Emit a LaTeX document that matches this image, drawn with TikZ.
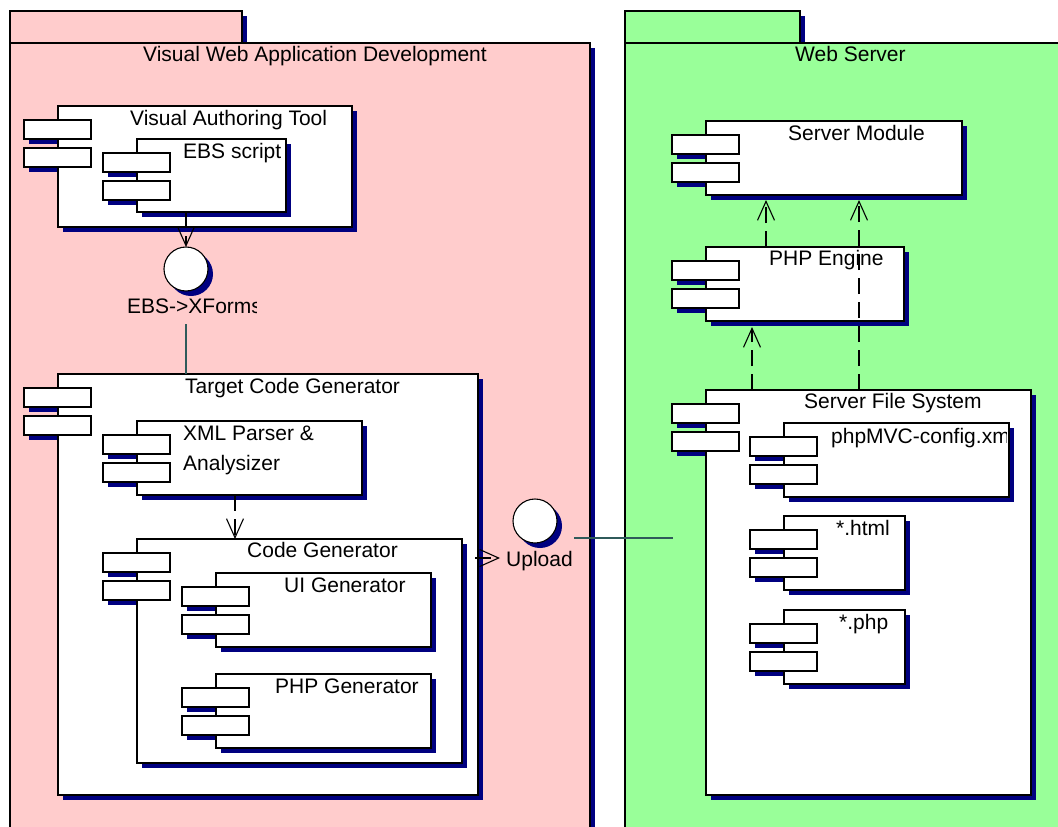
\documentclass[tikz,border=0pt]{standalone}
\usepackage{fontspec}
\setmainfont{Liberation Sans}
\usetikzlibrary{arrows.meta,shadows,calc}

\definecolor{navy}{RGB}{0,0,128}
\definecolor{pkgpink}{RGB}{255,204,204}
\definecolor{pkggreen}{RGB}{153,255,153}
\definecolor{wire}{RGB}{47,90,90}

\tikzset{
  sh/.style={drop shadow={shadow xshift=5pt, shadow yshift=-5pt, fill=navy, opacity=1}},
  body/.style={draw=black, fill=white, line width=1.1pt, rectangle, inner sep=0pt, outer sep=0pt, sh},
  port/.style={draw=black, fill=white, line width=1.1pt, rectangle, inner sep=0pt, outer sep=0pt,
               minimum width=67pt, minimum height=19pt},
  lbl/.style={inner sep=0pt, anchor=base west, font=\fontsize{21}{25}\selectfont},
  dep/.style={draw=black, line width=1.1pt, dash pattern=on 16pt off 8pt,
              -{Straight Barb[length=19pt,width=17pt]}},
  wireline/.style={draw=wire, line width=1.3pt},
  iface/.style={circle, draw=black, fill=white, line width=1.1pt, minimum size=44pt,
                inner sep=0pt, outer sep=0pt, sh},
  pkg/.style={draw=black, line width=1.1pt},
}

% UML component: #1 name, (#2,#3) top left, (#4,#5) bottom right of the body
\newcommand\umlcomp[5]{%
  \fill[navy] (#2-29,#3+19) rectangle ++(67,19);
  \fill[navy] (#2-29,#3+47) rectangle ++(67,19);
  \node[body, anchor=north west, minimum width={#4-#2}, minimum height={#5-#3}] (#1) at (#2,#3) {};
  \node[port, anchor=north west] (#1-a) at (#2-34,#3+14) {};
  \node[port, anchor=north west] (#1-b) at (#2-34,#3+42) {};
}

\begin{document}
\begin{tikzpicture}[x=1pt,y=-1pt]
\useasboundingbox (0,0) rectangle (1058,827);
\clip (0,0) rectangle (1058,827);
\fill[white] (0,0) rectangle (1058,827);

% ---- package: Visual Web Application Development
\fill[navy] (242,16) rectangle (247,43);
\fill[navy] (590,48) rectangle (595,900);
\filldraw[pkg, fill=pkgpink] (10,11) rectangle (242,43);
\filldraw[pkg, fill=pkgpink] (10,43) rectangle (590,900);
\node[lbl] (vwadtitle) at (143,61) {Visual Web Application Development};

% ---- package: Web Server
\fill[navy] (800,16) rectangle (805,43);
\filldraw[pkg, fill=pkggreen] (625,11) rectangle (800,43);
\filldraw[pkg, fill=pkggreen] (625,43) rectangle (1100,900);
\node[lbl] (wstitle) at (795,61) {Web Server};

% ---- left components
\umlcomp{vat}{58}{106}{352}{227}
\node[lbl] (vattitle) at (130,125) {Visual Authoring Tool};
\umlcomp{ebs}{137}{139}{286}{212}
\node[lbl] (ebstitle) at (183,158) {EBS script};

\node[iface] (xforms) at (186,269) {};
\begin{scope}
  \clip (100,290) rectangle (256,330);
  \node[lbl] (xformslbl) at (127,313) {EBS->XForms};
\end{scope}

\umlcomp{tcg}{58}{374}{478}{795}
\node[lbl] (tcgtitle) at (185,393) {Target Code Generator};
\umlcomp{xml}{137}{421}{362}{495}
\node[lbl] (xmltitle) at (183,440) {XML Parser \&};
\node[lbl] (xmltitleb) at (183,470) {Analysizer};
\umlcomp{cg}{137}{539}{462}{763}
\node[lbl] (cgtitle) at (247,557) {Code Generator};
\umlcomp{uig}{216}{573}{431}{647}
\node[lbl] (uigtitle) at (284,592) {UI Generator};
\umlcomp{phpg}{216}{674}{431}{748}
\node[lbl] (phpgtitle) at (275,693) {PHP Generator};

\node[iface] (upload) at (535,521) {};
\node[lbl] (uploadlbl) at (506,566) {Upload};

% ---- right components
\umlcomp{sm}{706}{121}{962}{195}
\node[lbl] (smtitle) at (788,140) {Server Module};
\umlcomp{php}{706}{247}{904}{321}
\node[lbl] (phptitle) at (769,265) {PHP Engine};
\umlcomp{sfs}{706}{390}{1031}{795}
\node[lbl] (sfstitle) at (804,408) {Server File System};
\umlcomp{cfg}{784}{423}{1009}{497}
\begin{scope}
  \clip (784,423) rectangle (1006,497);
  \node[lbl] (cfgtitle) at (831,443) {phpMVC-config.xml};
\end{scope}
\umlcomp{html}{784}{516}{905}{590}
\node[lbl] (htmltitle) at (836,535) {*.html};
\umlcomp{phpf}{784}{610}{905}{684}
\node[lbl] (phpftitle) at (839,629) {*.php};

% ---- connectors
\draw[dep] (ebs.south -| xforms.north) -- (xforms.north);
\draw[wireline] (xforms.south) ++(0,33) -- (xforms.south |- tcg.north);
\draw[dep] ([xshift=-14.5pt]xml.south) -- ([xshift=-14.5pt]xml.south |- cg.north);
\coordinate (uptip) at (500,558);
\draw[dep] (tcg.east |- uptip) ++(-3,0) -- (uptip);
\coordinate (upa) at (574,538);
\coordinate (upb) at (673,538);
\draw[wireline] (upa) -- (upb);

\draw[dep, shorten >=6pt] (sfs.north -| 752,0) -- (php.south -| 752,0);
\draw[dep, shorten >=5pt] (sfs.north -| 859,0) -- (sm.south -| 859,0);
\draw[dep, shorten >=5pt] (php.north -| 766,0) -- (sm.south -| 766,0);
\end{tikzpicture}
\end{document}
